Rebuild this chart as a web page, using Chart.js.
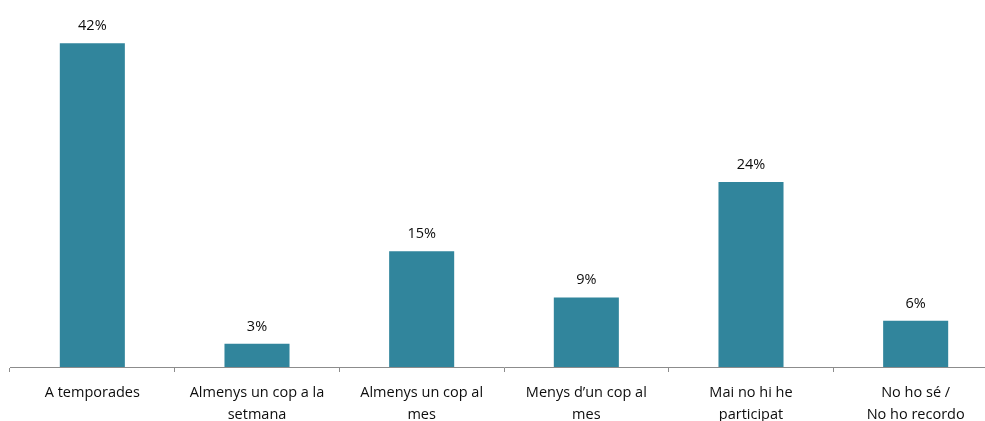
<!DOCTYPE html>
<html>
<head>
<meta charset="utf-8">
<script src="https://cdn.jsdelivr.net/npm/chart.js@4/dist/chart.umd.min.js"></script>
<style>
  html, body { margin: 0; padding: 0; background: #fff; overflow: hidden; }
  #wrap { width: 1000px; height: 421px; }
</style>
</head>
<body>
<div id="wrap"><canvas id="myChart" width="1000" height="421"></canvas></div>
<script>
// categorias e valores (%)
const categorias = [
  'A temporades',
  ['Almenys un cop a la', 'setmana'],
  ['Almenys un cop al', 'mes'],
  ['Menys d\u2019un cop al', 'mes'],
  ['Mai no hi he', 'participat'],
  ['No ho sé /', 'No ho recordo']
];
const valores = [42, 3, 15, 9, 24, 6];

const corBarra = '#31859C';

// rotulos em cima das barras
const rotulos = {
  id: 'rotulos',
  afterDatasetsDraw(chart) {
    const c = chart.ctx;
    c.save();
    c.font = '14.5px "Open Sans"';
    c.fillStyle = '#0d0d0d';
    c.textAlign = 'center';
    c.textBaseline = 'bottom';
    chart.getDatasetMeta(0).data.forEach((bar, i) => {
      c.fillText(valores[i] + '%', bar.x, bar.y - 10);
    });
    c.restore();
  }
};

const ctx = document.getElementById('myChart').getContext('2d');

const grafico = new Chart(ctx, {
  type: 'bar',
  data: {
    labels: categorias,
    datasets: [{
      data: valores,
      backgroundColor: corBarra,
      borderWidth: 0,
      categoryPercentage: 1,
      barPercentage: 0.395
    }]
  },
  options: {
    responsive: false,
    animation: false,
    layout: { padding: { left: 10, right: 2, top: 20, bottom: 0 } },
    plugins: {
      legend: { display: false },
      tooltip: { enabled: false }
    },
    scales: {
      x: {
        offset: true,
        afterFit: (s) => { s.height = 54; },
        grid: {
          offset: true,
          drawOnChartArea: false,
          drawTicks: true,
          tickLength: 5,
          color: '#8c8c8c'
        },
        border: { color: '#8c8c8c', width: 1 },
        ticks: {
          color: '#0d0d0d',
          font: { family: 'Open Sans', size: 14.5, lineHeight: 1.5 },
          padding: 10,
          maxRotation: 0,
          autoSkip: false
        }
      },
      y: {
        display: false,
        min: 0,
        max: 45
      }
    }
  },
  plugins: [rotulos]
});
</script>
</body>
</html>
